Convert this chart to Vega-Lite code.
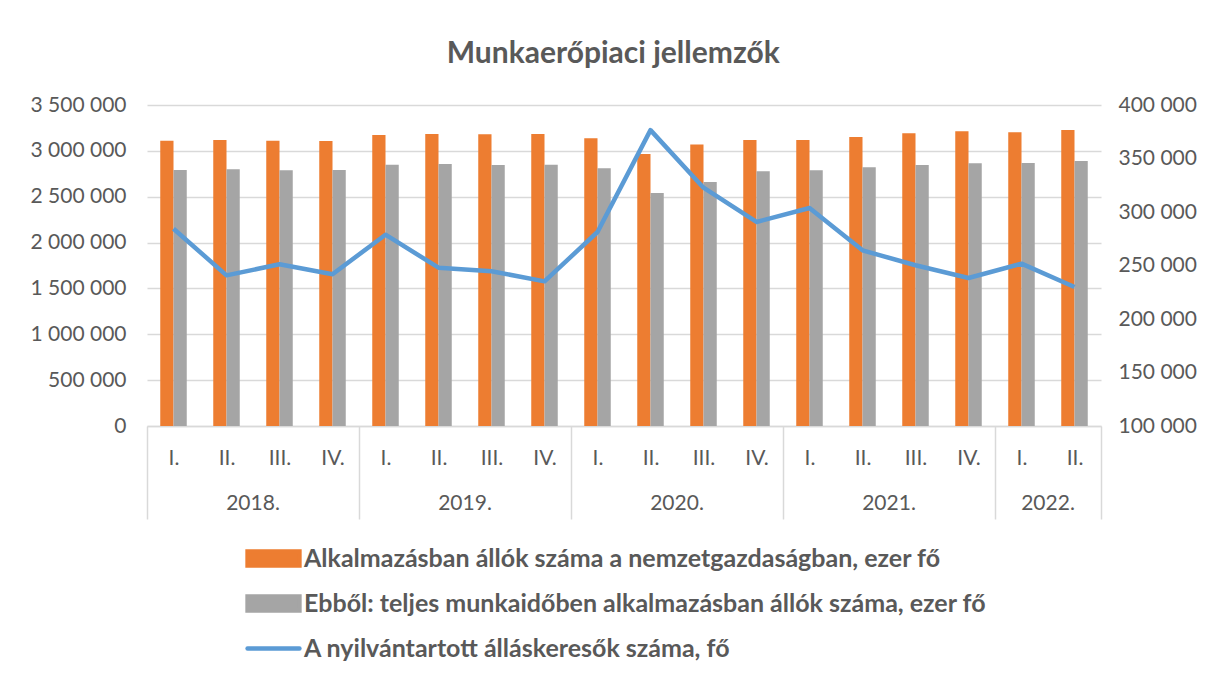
{
  "$schema": "https://vega.github.io/schema/vega-lite/v6.json",
  "width": 954,
  "height": 321,
  "padding": {"left": 29, "top": 39, "right": 5, "bottom": 5},
  "background": "white",
  "config": {
    "locale": {"number": {"decimal": ",", "thousands": " ", "grouping": [3], "currency": ["", ""]}},
    "font": "Lato",
    "view": {"stroke": null},
    "axis": {"labelFont": "Lato", "labelColor": "#595959", "labelFontSize": 21, "grid": false, "ticks": false, "domain": false}
  },
  "title": {"text": "Munkaerőpiaci jellemzők", "fontSize": 30, "fontWeight": "bold", "color": "#595959", "font": "Lato", "anchor": "middle", "frame": "bounds", "offset": 25},
  "data": {"values": [
    {"ev": "2018", "negyedev": "I", "q": "2018 I", "alk": 3111000, "teljes": 2791000, "allaskereso": 284400},
    {"ev": "2018", "negyedev": "II", "q": "2018 II", "alk": 3118000, "teljes": 2799000, "allaskereso": 240800},
    {"ev": "2018", "negyedev": "III", "q": "2018 III", "alk": 3110000, "teljes": 2788000, "allaskereso": 251100},
    {"ev": "2018", "negyedev": "IV", "q": "2018 IV", "alk": 3107000, "teljes": 2791000, "allaskereso": 241800},
    {"ev": "2019", "negyedev": "I", "q": "2019 I", "alk": 3173000, "teljes": 2849000, "allaskereso": 278800},
    {"ev": "2019", "negyedev": "II", "q": "2019 II", "alk": 3184000, "teljes": 2857000, "allaskereso": 248000},
    {"ev": "2019", "negyedev": "III", "q": "2019 III", "alk": 3180000, "teljes": 2846000, "allaskereso": 244600},
    {"ev": "2019", "negyedev": "IV", "q": "2019 IV", "alk": 3184000, "teljes": 2849000, "allaskereso": 235200},
    {"ev": "2020", "negyedev": "I", "q": "2020 I", "alk": 3137000, "teljes": 2810000, "allaskereso": 281300},
    {"ev": "2020", "negyedev": "II", "q": "2020 II", "alk": 2966000, "teljes": 2540000, "allaskereso": 376500},
    {"ev": "2020", "negyedev": "III", "q": "2020 III", "alk": 3068000, "teljes": 2660000, "allaskereso": 322700},
    {"ev": "2020", "negyedev": "IV", "q": "2020 IV", "alk": 3118000, "teljes": 2777000, "allaskereso": 290700},
    {"ev": "2021", "negyedev": "I", "q": "2021 I", "alk": 3118000, "teljes": 2788000, "allaskereso": 303700},
    {"ev": "2021", "negyedev": "II", "q": "2021 II", "alk": 3151000, "teljes": 2820000, "allaskereso": 264200},
    {"ev": "2021", "negyedev": "III", "q": "2021 III", "alk": 3191000, "teljes": 2846000, "allaskereso": 250200},
    {"ev": "2021", "negyedev": "IV", "q": "2021 IV", "alk": 3213000, "teljes": 2864000, "allaskereso": 238300},
    {"ev": "2022", "negyedev": "I", "q": "2022 I", "alk": 3202000, "teljes": 2868000, "allaskereso": 251700},
    {"ev": "2022", "negyedev": "II", "q": "2022 II", "alk": 3227000, "teljes": 2889000, "allaskereso": 229900}
  ]},
  "layer": [
    {
      "transform": [{"fold": ["alk", "teljes"], "as": ["sorozat", "ertek"]}],
      "mark": {"type": "bar"},
      "encoding": {
        "x": {
          "field": "q", "type": "nominal", "sort": null,
          "scale": {"paddingInner": 0, "paddingOuter": 0},
          "axis": {
            "title": null, "orient": "bottom",
            "labelExpr": "datum.extra ? '' : split(datum.value, ' ')[1] + '.'",
            "labelAngle": 0,
            "domain": true, "domainColor": "#d9d9d9", "domainWidth": 1.5,
            "ticks": true, "tickBand": "extent", "tickSize": 93, "tickColor": "#d9d9d9", "tickWidth": 1.5,
            "tickOpacity": {"condition": {"test": "datum.extra || indexof(['2018 IV', '2019 IV', '2020 IV', '2021 IV', '2022 II'], datum.value) >= 0", "value": 1}, "value": 0},
            "labelPadding": -72
          }
        },
        "xOffset": {"field": "sorozat", "type": "nominal", "sort": ["alk", "teljes"], "scale": {"paddingInner": 0, "paddingOuter": 1}},
        "y": {
          "field": "ertek", "type": "quantitative",
          "scale": {"domain": [0, 3500000]},
          "axis": {"title": null, "values": [0, 500000, 1000000, 1500000, 2000000, 2500000, 3000000, 3500000], "format": ",d", "grid": true, "gridColor": "#d9d9d9", "gridWidth": 1.5, "labelPadding": 21}
        },
        "color": {
          "field": "sorozat", "type": "nominal",
          "scale": {"domain": ["alk", "teljes", "line"], "range": ["#ED7D31", "#A5A5A5", "#5B9BD5"]},
          "legend": {
            "title": null, "orient": "none", "direction": "vertical",
            "legendX": 100, "legendY": 427,
            "labelExpr": "datum.value == 'alk' ? 'Alkalmazásban állók száma a nemzetgazdaságban, ezer fő' : datum.value == 'teljes' ? 'Ebből: teljes munkaidőben alkalmazásban állók száma, ezer fő' : 'A nyilvántartott álláskeresők száma, fő'",
            "labelFont": "Lato", "labelFontSize": 25, "labelFontWeight": "bold", "labelColor": "#595959", "labelLimit": 1000,
            "symbolSize": 2304, "labelOffset": 4, "rowPadding": 2,
            "encode": {
              "symbols": {
                "update": {
                  "shape": {"signal": "datum.value == 'line' ? 'M-1.08,0H1.08' : 'M-1.08,-0.29H1.08V0.29H-1.08Z'"},
                  "fill": {"signal": "datum.value == 'alk' ? '#ED7D31' : datum.value == 'teljes' ? '#A5A5A5' : 'transparent'"},
                  "stroke": {"signal": "datum.value == 'line' ? '#5B9BD5' : 'transparent'"},
                  "strokeWidth": {"value": 4.5},
                  "strokeCap": {"value": "round"},
                  "opacity": {"value": 1}
                }
              }
            }
          }
        }
      }
    },
    {
      "mark": {"type": "line", "strokeWidth": 4.5, "strokeJoin": "round"},
      "encoding": {
        "x": {
          "field": "q", "type": "nominal", "sort": null,
          "axis": {
            "title": null, "orient": "bottom",
            "values": ["2018 II", "2019 II", "2020 II", "2021 II", "2022 I"],
            "labelOffset": 26.5,
            "labelExpr": "split(datum.value, ' ')[0] + '.'",
            "labelAngle": 0, "labelPadding": 66, "ticks": false, "domain": false
          }
        },
        "y": {
          "field": "allaskereso", "type": "quantitative",
          "scale": {"domain": [100000, 400000]},
          "axis": {"title": null, "orient": "right", "values": [100000, 150000, 200000, 250000, 300000, 350000, 400000], "format": ",d", "labelPadding": 17}
        },
        "color": {"datum": "line", "type": "nominal", "scale": {"domain": ["alk", "teljes", "line"], "range": ["#ED7D31", "#A5A5A5", "#5B9BD5"]}}
      }
    }
  ],
  "resolve": {"scale": {"y": "independent"}, "axis": {"x": "independent", "y": "independent"}}
}
